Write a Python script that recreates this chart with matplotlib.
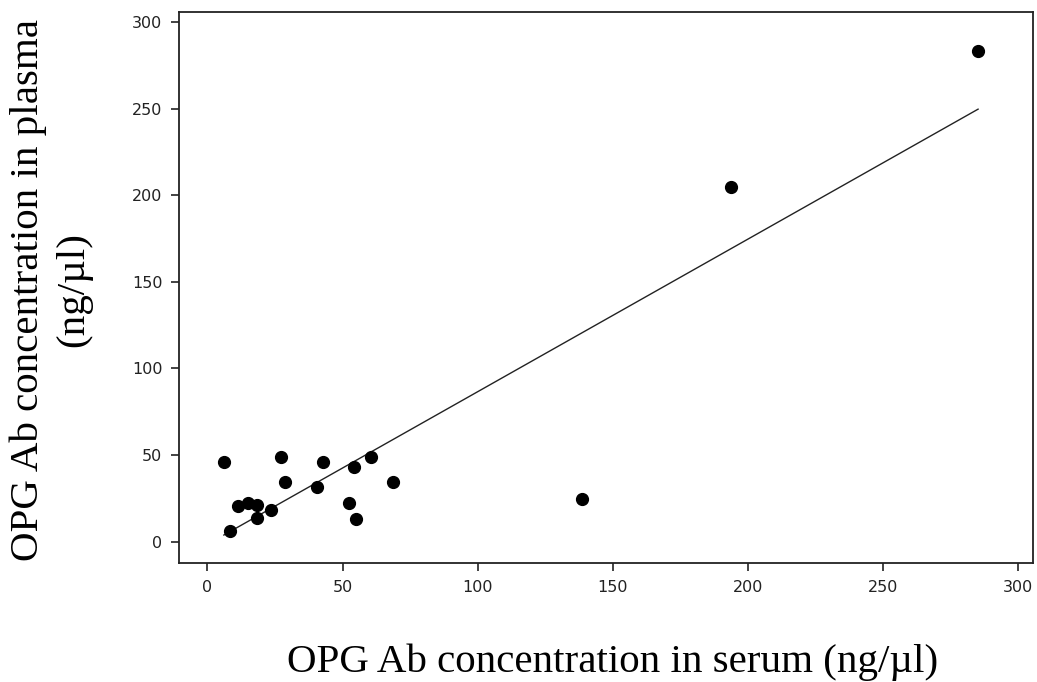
import numpy as np
import matplotlib
matplotlib.use("Agg")
import matplotlib.pyplot as plt

# OPG antibody concentration, serum vs plasma (ng/ul)
serum = [6.1, 8.4, 11.3, 15.1, 18.5, 18.5, 23.4, 27.4, 28.7, 40.7,
         42.7, 52.4, 54.2, 54.8, 60.6, 68.8, 138.7, 193.8, 285.1]
plasma = [45.8, 6.2, 20.8, 22.2, 21.2, 13.9, 18.3, 49.1, 34.3, 31.8,
          45.8, 22.2, 43.0, 13.1, 49.1, 34.3, 24.6, 204.7, 283.2]

x_ticks = [0, 50, 100, 150, 200, 250, 300]
y_ticks = [0, 50, 100, 150, 200, 250, 300]

fig = plt.figure(figsize=(10.37, 6.82), dpi=100)
ax = fig.add_axes([0.1726, 0.1745, 0.8235, 0.8079])

# least squares fit line over the data range
slope, icpt = np.polyfit(serum, plasma, 1)
xs = np.array([min(serum), max(serum)])
ax.plot(xs, slope * xs + icpt, color="#222222", lw=1.0)

ax.plot(serum, plasma, "o", color="black", ms=8.5, mec="black")

ax.set_xlim(-10.5, 305.4)
ax.set_ylim(-12.3, 305.8)
ax.set_xticks(x_ticks)
ax.set_yticks(y_ticks)
ax.tick_params(direction="out", length=6, width=1.2, colors="#222222",
               labelsize=11.5, pad=6)
for s in ax.spines.values():
    s.set_linewidth(1.3)
    s.set_color("#222222")

serif = ["Liberation Serif", "DejaVu Serif"]
fig.text(0.591, 0.029, "OPG Ab concentration in serum (ng/\u00b5l)",
         ha="center", va="center", fontsize=29.5, family=serif)
fig.text(0.027, 0.575, "OPG Ab concentration in plasma",
         ha="center", va="center", rotation=90, fontsize=29.5, family=serif)
fig.text(0.071, 0.575, "(ng/\u00b5l)",
         ha="center", va="center", rotation=90, fontsize=29.5, family=serif)

fig.savefig("out.png", dpi=100)
